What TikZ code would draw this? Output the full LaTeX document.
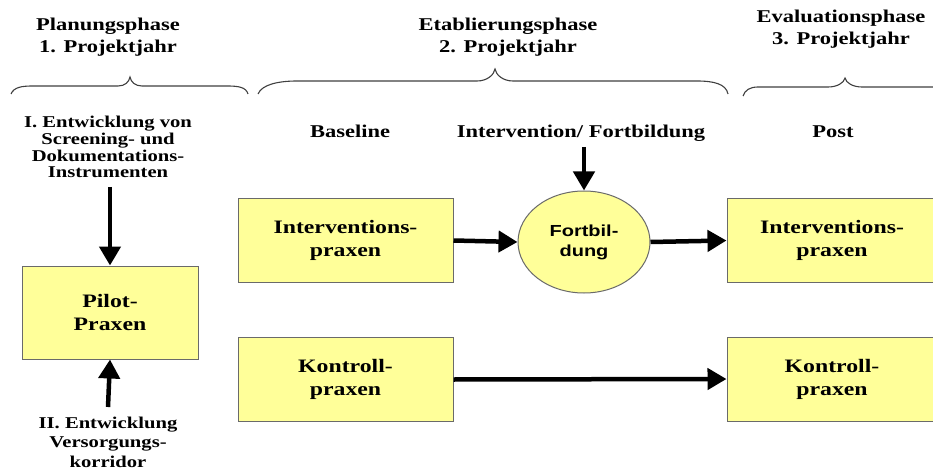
\documentclass[tikz,border=0pt]{standalone}
\usepackage{fontspec}
\usetikzlibrary{arrows.meta,shapes.geometric}
\newfontfamily\myserif{Liberation Serif}[FakeStretch=1.25]
\newfontfamily\mysans{Liberation Sans}[FakeStretch=1.25]
\newcommand\myhdr{\myserif\bfseries\fontsize{18}{22}\selectfont}
\newcommand\myboxf{\myserif\bfseries\fontsize{19}{23}\selectfont}
\newcommand\mysmallA{\myserif\bfseries\fontsize{16.5}{16.7}\selectfont}
\newcommand\mysmallB{\myserif\bfseries\fontsize{16.5}{19.5}\selectfont}
\newcommand\myell{\mysans\bfseries\fontsize{16}{20}\selectfont}
\definecolor{boxfill}{HTML}{FFFF99}
\definecolor{boxborder}{HTML}{6A6A6A}
\definecolor{bracecol}{HTML}{404040}
\begin{document}
\begin{tikzpicture}[x=1pt,y=-1pt,
  txt/.style={align=center,inner sep=0pt,anchor=base},
  hdr/.style={txt,font=\myhdr},
  pbox/.style={draw=boxborder,fill=boxfill,line width=1pt,align=center,inner sep=0pt,font=\myboxf},
  arr/.style={line width=4.5pt,-{Triangle[length=19pt,width=21pt]}},
  brc/.style={draw=bracecol,line width=1.1pt}]
\clip (0,0) rectangle (933,470);
\fill[white] (0,0) rectangle (933,470);
% phase headers (anchor = baseline of last line)
\node[hdr] (ph1) at (108,53) {Planungsphase\\1. Projektjahr};
\node[hdr] (ph2) at (508,53) {Etablierungsphase\\2. Projektjahr};
\node[hdr] (ph3) at (841,45) {Evaluationsphase\\3. Projektjahr};
% braces
\draw[brc] (11,94) .. controls (14,87) and (22,86) .. (33,86) -- (118,86)
  .. controls (125,86) and (129,82) .. (130,77)
  .. controls (131,82) and (135,86) .. (142,86) -- (227,86)
  .. controls (238,86) and (246,87) .. (248,94);
\draw[brc] (258,94) .. controls (262,84) and (280,81) .. (297,81) -- (477,81)
  .. controls (487,81) and (494,75) .. (495,69)
  .. controls (496,75) and (503,81) .. (513,81) -- (697,81)
  .. controls (714,81) and (726,84) .. (728,94);
\draw[brc] (743,96) .. controls (745,90) and (750,87) .. (758,87) -- (828,87)
  .. controls (837,87) and (844,83) .. (845,78)
  .. controls (846,83) and (853,87) .. (862,87) -- (940,87);
% column labels
\node[hdr] (bl) at (350,138) {Baseline};
\node[hdr] (ivf) at (581,138) {Intervention/ Fortbildung};
\node[hdr] (post) at (833,138) {Post};
\node[txt,font=\mysmallA] (ent1) at (108,178) {I. Entwicklung von\\Screening- und\\Dokumentations-\\Instrumenten};
\node[txt,font=\mysmallB] (ent2) at (108,467) {II. Entwicklung\\Versorgungs-\\korridor};
% boxes
\node[pbox,minimum width=176pt,minimum height=93pt] (pilot) at (110,312.5) {Pilot-\\Praxen};
\node[pbox,minimum width=215pt,minimum height=83pt] (ipl) at (345.5,240.5) {Interventions-\\praxen};
\node[pbox,minimum width=215pt,minimum height=84pt] (kpl) at (345.5,379.5) {Kontroll-\\praxen};
\node[pbox,minimum width=210pt,minimum height=83pt] (ipr) at (832,240.5) {Interventions-\\praxen};
\node[pbox,minimum width=210pt,minimum height=84pt] (kpr) at (832,379) {Kontroll-\\praxen};
\node[draw=boxborder,fill=boxfill,line width=1pt,ellipse,minimum width=132pt,minimum height=102pt,inner sep=0pt,align=center,font=\myell] (fb) at (584,242) {Fortbil-\\dung};
% arrows
\coordinate (a1) at (110,187);
\coordinate (a2) at (108,407);
\coordinate (a3) at (584,147);
\draw[arr] (a1) -- (pilot.north);
\draw[arr] (a2) -- (pilot.south);
\draw[arr] (a3) -- (fb.north);
\draw[arr] (ipl.east) -- (fb.west);
\draw[arr] (fb.east) -- (ipr.west);
\draw[arr] (kpl.east) -- (kpr.west);
\end{tikzpicture}
\end{document}
